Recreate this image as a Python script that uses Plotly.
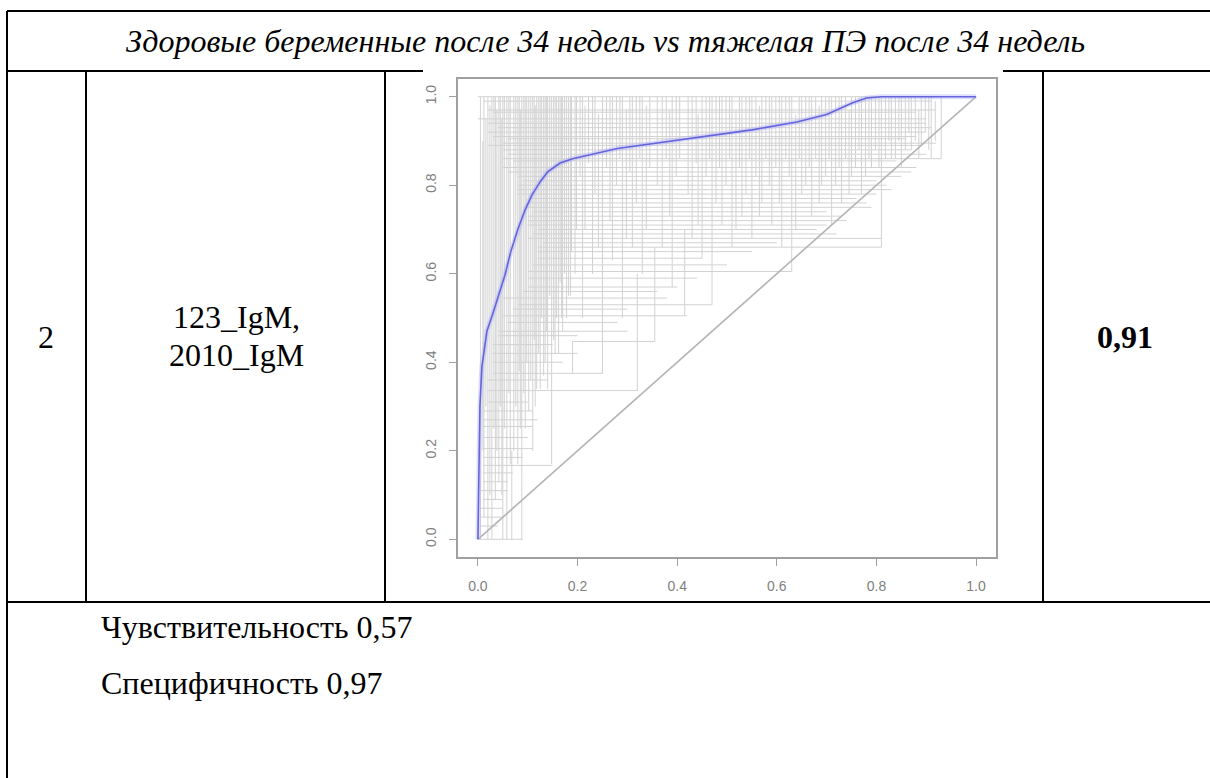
import plotly.graph_objects as go

# ---------------- data ----------------
title_text = "Здоровые беременные после 34 недель vs тяжелая ПЭ после 34 недель"
row_number = "2"
marker_lines = ["123_IgM,", "2010_IgM"]
auc_text = "0,91"
footer_lines = ["Чувствительность 0,57", "Специфичность 0,97"]

tick_vals = [0.0, 0.2, 0.4, 0.6, 0.8, 1.0]
tick_text = ["0.0", "0.2", "0.4", "0.6", "0.8", "1.0"]

# smoothed ROC curve (FPR, TPR)
roc_fpr = [0.0, 0.001, 0.002, 0.004, 0.008, 0.018, 0.03, 0.04, 0.054, 0.066, 0.08, 0.095,
           0.108, 0.125, 0.14, 0.165, 0.19, 0.28, 0.45, 0.55, 0.64, 0.7, 0.75, 0.78, 0.81, 1.0]
roc_tpr = [0.0, 0.1, 0.2, 0.3, 0.39, 0.47, 0.51, 0.544, 0.596, 0.65, 0.70, 0.745,
           0.777, 0.808, 0.83, 0.85, 0.86, 0.883, 0.91, 0.925, 0.943, 0.96, 0.985, 0.997, 1.0, 1.0]

# chance diagonal
diag_x = [0.0, 1.0]
diag_y = [0.0, 1.0]

# bootstrap ROC steps: vertical segments (x, y from, y to)
vert_x = [0.005, 0.012, 0.02, 0.028, 0.035, 0.042, 0.05, 0.058, 0.065, 0.072, 0.08, 0.088,
          0.095, 0.102, 0.11, 0.118, 0.125, 0.132, 0.14, 0.148, 0.155, 0.162, 0.17, 0.178,
          0.186, 0.19, 0.195, 0.21, 0.23, 0.25, 0.27, 0.29, 0.31, 0.32, 0.33, 0.355, 0.37,
          0.39, 0.415, 0.43, 0.45, 0.47, 0.49, 0.51, 0.53, 0.55, 0.57, 0.59, 0.61, 0.63,
          0.65, 0.67, 0.69, 0.71, 0.73, 0.75, 0.77, 0.79, 0.81, 0.83, 0.85, 0.87, 0.89,
          0.91, 0.93,
          0.045, 0.048, 0.053, 0.062, 0.068, 0.076, 0.083, 0.085, 0.092, 0.098, 0.106, 0.113,
          0.115, 0.122, 0.128, 0.135, 0.138, 0.144, 0.152, 0.158, 0.165, 0.168, 0.174, 0.182,
          0.188, 0.198, 0.01, 0.016, 0.024, 0.032, 0.038,
          0.205, 0.215, 0.222, 0.235, 0.242, 0.258, 0.265, 0.278, 0.285, 0.298, 0.305, 0.318,
          0.325, 0.338, 0.345, 0.36, 0.378, 0.385, 0.398, 0.405, 0.422, 0.438, 0.442, 0.458,
          0.465, 0.478, 0.485, 0.498, 0.505, 0.518, 0.525, 0.538, 0.545, 0.558, 0.565, 0.578,
          0.585, 0.598, 0.605, 0.618, 0.625, 0.638, 0.645, 0.658, 0.665, 0.678, 0.685, 0.698,
          0.705, 0.718, 0.725, 0.738, 0.745, 0.758, 0.765, 0.778, 0.785, 0.798, 0.805, 0.818,
          0.825, 0.838, 0.845, 0.858, 0.865, 0.878, 0.885, 0.898, 0.905, 0.918]
vert_y0 = [0.0, 0.05, 0.0, 0.0, 0.09, 0.13, 0.0, 0.0, 0.17, 0.2, 0.17, 0.0,
           0.25, 0.29, 0.2, 0.34, 0.34, 0.37, 0.34, 0.17, 0.42, 0.42, 0.47, 0.5,
           0.55, 0.375, 0.6, 0.5, 0.6, 0.375, 0.63, 0.5, 0.66, 0.336, 0.6, 0.447, 0.66,
           0.57, 0.505, 0.68, 0.635, 0.53, 0.71, 0.66, 0.73, 0.68, 0.76, 0.71, 0.66, 0.605,
           0.78, 0.73, 0.8, 0.71, 0.76, 0.82, 0.78, 0.84, 0.66, 0.86, 0.84, 0.88, 0.89,
           0.86, 0.86,
           0.3, 0.1, 0.25, 0.33, 0.0, 0.3, 0.38, 0.25, 0.33, 0.4, 0.36, 0.45,
           0.3, 0.42, 0.5, 0.4, 0.47, 0.55, 0.45, 0.5, 0.58, 0.5, 0.6, 0.55,
           0.65, 0.7, 0.2, 0.3, 0.1, 0.25, 0.2,
           0.82, 0.7, 0.85, 0.78, 0.66, 0.84, 0.72, 0.8, 0.86, 0.68, 0.83, 0.76,
           0.86, 0.7, 0.84, 0.8, 0.86, 0.73, 0.82, 0.86, 0.78, 0.85, 0.71, 0.82,
           0.86, 0.76, 0.84, 0.8, 0.86, 0.7, 0.84, 0.78, 0.86, 0.82, 0.73, 0.86,
           0.8, 0.84, 0.76, 0.86, 0.82, 0.7, 0.86, 0.8, 0.84, 0.86, 0.76, 0.82,
           0.86, 0.8, 0.84, 0.86, 0.78, 0.84, 0.88, 0.82, 0.86, 0.88, 0.84, 0.86,
           0.9, 0.86, 0.9, 0.88, 0.92, 0.9, 0.86, 0.92, 0.88, 0.9]
vert_y1 = [1.0, 1.0, 1.0, 1.0, 1.0, 1.0, 1.0, 1.0, 1.0, 1.0, 1.0, 1.0,
           1.0, 1.0, 1.0, 1.0, 1.0, 1.0, 1.0, 1.0, 1.0, 1.0, 1.0, 1.0,
           1.0, 0.447, 1.0, 1.0, 1.0, 1.0, 1.0, 1.0, 1.0, 0.6, 1.0, 0.66, 1.0,
           1.0, 0.7, 1.0, 1.0, 1.0, 1.0, 1.0, 1.0, 1.0, 1.0, 1.0, 1.0, 1.0,
           1.0, 1.0, 1.0, 1.0, 1.0, 1.0, 1.0, 1.0, 1.0, 1.0, 1.0, 1.0, 1.0,
           1.0, 1.0,
           1.0, 0.95, 1.0, 1.0, 0.2, 1.0, 1.0, 0.97, 1.0, 1.0, 1.0, 1.0,
           0.98, 1.0, 1.0, 1.0, 1.0, 1.0, 1.0, 1.0, 1.0, 1.0, 1.0, 1.0,
           1.0, 1.0, 0.9, 0.95, 0.98, 1.0, 0.97,
           1.0, 0.98, 1.0, 1.0, 0.96, 1.0, 1.0, 1.0, 1.0, 0.97, 1.0, 1.0,
           1.0, 0.98, 1.0, 1.0, 1.0, 0.97, 1.0, 1.0, 1.0, 1.0, 0.96, 1.0,
           1.0, 1.0, 1.0, 1.0, 1.0, 0.97, 1.0, 1.0, 1.0, 1.0, 0.98, 1.0,
           1.0, 1.0, 1.0, 1.0, 1.0, 0.96, 1.0, 1.0, 1.0, 1.0, 0.98, 1.0,
           1.0, 1.0, 1.0, 1.0, 0.97, 1.0, 1.0, 1.0, 1.0, 1.0, 1.0, 1.0,
           1.0, 1.0, 1.0, 1.0, 1.0, 1.0, 0.97, 1.0, 1.0, 0.99]

# bootstrap ROC steps: horizontal segments (y, x from, x to)
horz_y = [1.0, 0.95, 0.92, 0.89, 0.88, 0.86, 0.84, 0.82, 0.80, 0.78, 0.76, 0.73, 0.71,
          0.68, 0.66, 0.635, 0.605, 0.57, 0.545, 0.505, 0.47, 0.447, 0.42, 0.375, 0.336,
          0.29, 0.255, 0.205, 0.167, 0.13, 0.09, 0.05, 0.0,
          0.99, 0.97, 0.965, 0.94, 0.93, 0.91, 0.905, 0.895, 0.87, 0.855, 0.83, 0.81,
          0.79, 0.77, 0.75, 0.74, 0.72, 0.70, 0.69, 0.67, 0.65, 0.62, 0.59, 0.56, 0.53,
          0.52, 0.49, 0.46, 0.44, 0.40, 0.36, 0.31, 0.27, 0.23, 0.185, 0.15, 0.11, 0.07, 0.03]
horz_x0 = [0.0, 0.0, 0.02, 0.02, 0.05, 0.05, 0.05, 0.08, 0.08, 0.08, 0.1, 0.1, 0.1,
           0.1, 0.12, 0.12, 0.1, 0.1, 0.05, 0.05, 0.04, 0.19, 0.03, 0.03, 0.02,
           0.01, 0.01, 0.01, 0.01, 0.01, 0.01, 0.005, 0.0,
           0.01, 0.02, 0.03, 0.02, 0.04, 0.03, 0.06, 0.05, 0.06, 0.07, 0.06, 0.09,
           0.08, 0.1, 0.09, 0.11, 0.1, 0.12, 0.11, 0.13, 0.12, 0.11, 0.1, 0.09, 0.08,
           0.07, 0.06, 0.04, 0.03, 0.03, 0.02, 0.02, 0.01, 0.01, 0.01, 0.01, 0.005, 0.005, 0.005]
horz_x1 = [0.93, 0.9, 0.9, 0.89, 0.87, 0.93, 0.88, 0.85, 0.82, 0.8, 0.78, 0.73, 0.7,
           0.81, 0.81, 0.45, 0.63, 0.4, 0.38, 0.42, 0.3, 0.355, 0.2, 0.25, 0.32,
           0.11, 0.11, 0.11, 0.15, 0.06, 0.05, 0.05, 0.09,
           0.91, 0.92, 0.88, 0.9, 0.91, 0.88, 0.86, 0.92, 0.9, 0.84, 0.87, 0.8,
           0.83, 0.76, 0.79, 0.7, 0.74, 0.68, 0.72, 0.6, 0.55, 0.5, 0.44, 0.36, 0.47,
           0.3, 0.28, 0.2, 0.15, 0.17, 0.14, 0.1, 0.12, 0.1, 0.09, 0.07, 0.06, 0.05, 0.04]

# ---------------- geometry (pixels of the page) ----------------
W, H = 1210, 778


def pxx(x):
    return x / W


def pxy(y):
    return 1 - y / H


# ---------------- figure ----------------
mesh_x, mesh_y = [], []
for x, a, b in zip(vert_x, vert_y0, vert_y1):
    mesh_x += [x, x, None]
    mesh_y += [a, b, None]
for y, a, b in zip(horz_y, horz_x0, horz_x1):
    mesh_x += [a, b, None]
    mesh_y += [y, y, None]

fig = go.Figure()
fig.add_trace(go.Scatter(x=mesh_x, y=mesh_y, mode="lines",
                         line=dict(color="#d2d2d2", width=1),
                         hoverinfo="skip"))
fig.add_trace(go.Scatter(x=diag_x, y=diag_y, mode="lines",
                         line=dict(color="#b4b4b4", width=1.6), hoverinfo="skip"))
fig.add_trace(go.Scatter(x=roc_fpr, y=roc_tpr, mode="lines",
                         line=dict(color="rgba(175,175,250,0.4)", width=5),
                         hoverinfo="skip"))
fig.add_trace(go.Scatter(x=roc_fpr, y=roc_tpr, mode="lines",
                         line=dict(color="#6464dc", width=1.6)))

axis_common = dict(range=[-0.04, 1.04], tickvals=tick_vals, ticktext=tick_text,
                   showgrid=False, zeroline=False, showline=True, mirror=True,
                   linecolor="#a0a0a0", linewidth=1.5, ticks="outside", ticklen=7,
                   tickwidth=1, tickcolor="#a0a0a0", ticklabelstandoff=8,
                   tickfont=dict(family="Liberation Sans", size=14, color="#808080"),
                   fixedrange=True)

fig.update_layout(
    width=W, height=H, autosize=False,
    margin=dict(l=0, r=0, t=0, b=0, pad=0),
    paper_bgcolor="white", plot_bgcolor="white", showlegend=False,
    xaxis=dict(domain=[pxx(458), pxx(996)], **axis_common),
    yaxis=dict(domain=[pxy(557), pxy(79)], tickangle=-90, **axis_common),
)

# table borders
table_lines = [
    (7, 11, 1210, 11),
    (7, 71, 423, 71),
    (1003, 71, 1210, 71),
    (7, 11, 7, 778),
    (86, 71, 86, 602),
    (385, 71, 385, 602),
    (1043, 71, 1043, 602),
    (7, 602, 1210, 602),
]
for x0, y0, x1, y1 in table_lines:
    fig.add_shape(type="line", xref="paper", yref="paper",
                  x0=pxx(x0), y0=pxy(y0), x1=pxx(x1), y1=pxy(y1),
                  line=dict(color="black", width=2))

serif = "Liberation Serif"
fs = 32

fig.add_annotation(text="<i>" + title_text + "</i>", xref="paper", yref="paper",
                   x=pxx(605), y=pxy(41), showarrow=False, xanchor="center", yanchor="middle",
                   font=dict(family=serif, size=fs, color="black"))
fig.add_annotation(text=row_number, xref="paper", yref="paper",
                   x=pxx(46), y=pxy(337), showarrow=False, xanchor="center", yanchor="middle",
                   font=dict(family=serif, size=fs, color="black"))
for i, line in enumerate(marker_lines):
    fig.add_annotation(text=line, xref="paper", yref="paper",
                       x=pxx(236), y=pxy(317 + 38 * i), showarrow=False,
                       xanchor="center", yanchor="middle",
                       font=dict(family=serif, size=fs, color="black"))
fig.add_annotation(text="<b>" + auc_text + "</b>", xref="paper", yref="paper",
                   x=pxx(1125), y=pxy(337), showarrow=False, xanchor="center", yanchor="middle",
                   font=dict(family=serif, size=fs, color="black"))
for i, line in enumerate(footer_lines):
    fig.add_annotation(text=line, xref="paper", yref="paper",
                       x=pxx(99), y=pxy(627 + 56 * i), showarrow=False,
                       xanchor="left", yanchor="middle",
                       font=dict(family=serif, size=fs, color="black"))

fig.write_html("out.html", config={"displayModeBar": False},
               post_script="document.body.style.margin='0px';")
